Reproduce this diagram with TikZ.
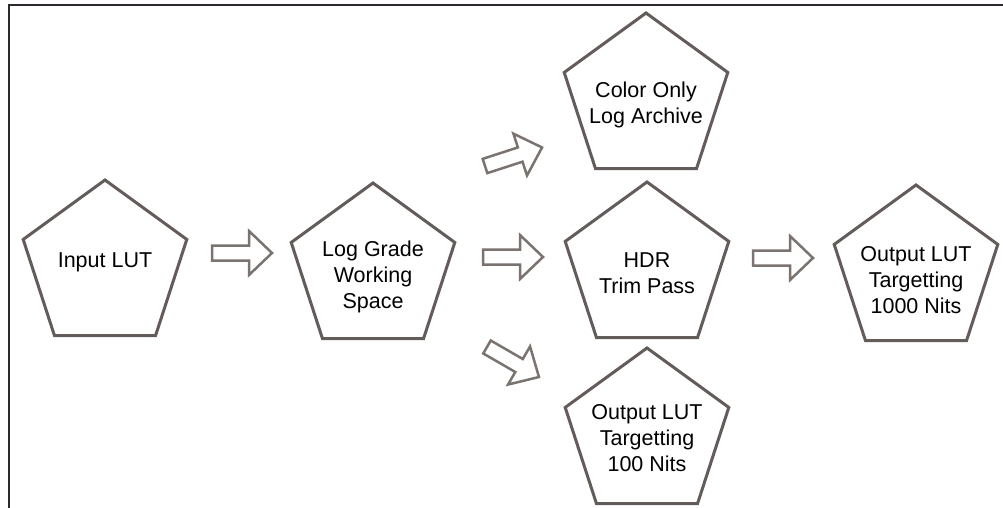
\documentclass[tikz,border=0pt]{standalone}
\usepackage{fontspec}
\setmainfont{Liberation Sans}
\usetikzlibrary{shapes.geometric}
\definecolor{penta}{RGB}{100,92,90}
\definecolor{arrowc}{RGB}{122,115,112}
\definecolor{framec}{RGB}{45,40,45}
\tikzset{
  pentabox/.style={regular polygon, regular polygon sides=5, minimum size=172pt,
    inner sep=0pt, outer sep=0pt, draw=penta, line width=3pt, fill=white},
  lbl/.style={align=center, font=\fontsize{21.5pt}{26pt}\selectfont, text=black, inner sep=0pt},
  arrowstyle/.style={draw=arrowc, line width=2.5pt, fill=white, line join=miter},
  pics/hollowarrow/.style={code={
    \draw[arrowstyle] (0,-7.5) -- (37,-7.5) -- (37,-22) -- (60,0) -- (37,22) -- (37,7.5) -- (0,7.5) -- cycle;}}
}
\begin{document}
\begin{tikzpicture}[x=1pt,y=-1pt]
\useasboundingbox[fill=white] (0,0) rectangle (1003,508);
% frame
\coordinate (fl) at (9,508);
\coordinate (ftl) at (9,5);
\coordinate (ftr) at (1003,5);
\draw[framec, line width=2pt] (fl) -- (ftl) -- (ftr);
% pentagons
\node[pentabox] (inp) at (105,266) {};
\node[pentabox] (log) at (373,269) {};
\node[pentabox] (col) at (646,99) {};
\node[pentabox] (hdr) at (647,268) {};
\node[pentabox] (o100) at (647,434) {};
\node[pentabox] (o1000) at (916,271) {};
% labels
\node[lbl] (tinp) at (105,262) {Input LUT};
\node[lbl] (tlog) at (373,277) {Log Grade\\Working\\Space};
\node[lbl] (tcol) at (646,104.5) {Color Only\\Log Archive};
\node[lbl] (thdr) at (647,273) {HDR\\Trim Pass};
\node[lbl] (to100) at (647,438.5) {Output LUT\\Targetting\\100 Nits};
\node[lbl] (to1000) at (916,280) {Output LUT\\Targetting\\1000 Nits};
% hollow arrows
\coordinate (a1) at (212,253);
\coordinate (a2) at (483,257);
\coordinate (a3) at (753,258);
\coordinate (a4) at (485,166);
\coordinate (a5) at (487,347);
\pic at (a1) {hollowarrow};
\pic at (a2) {hollowarrow};
\pic at (a3) {hollowarrow};
\pic[rotate=18] at (a4) {hollowarrow};
\pic[rotate=-30] at (a5) {hollowarrow};
\end{tikzpicture}
\end{document}
